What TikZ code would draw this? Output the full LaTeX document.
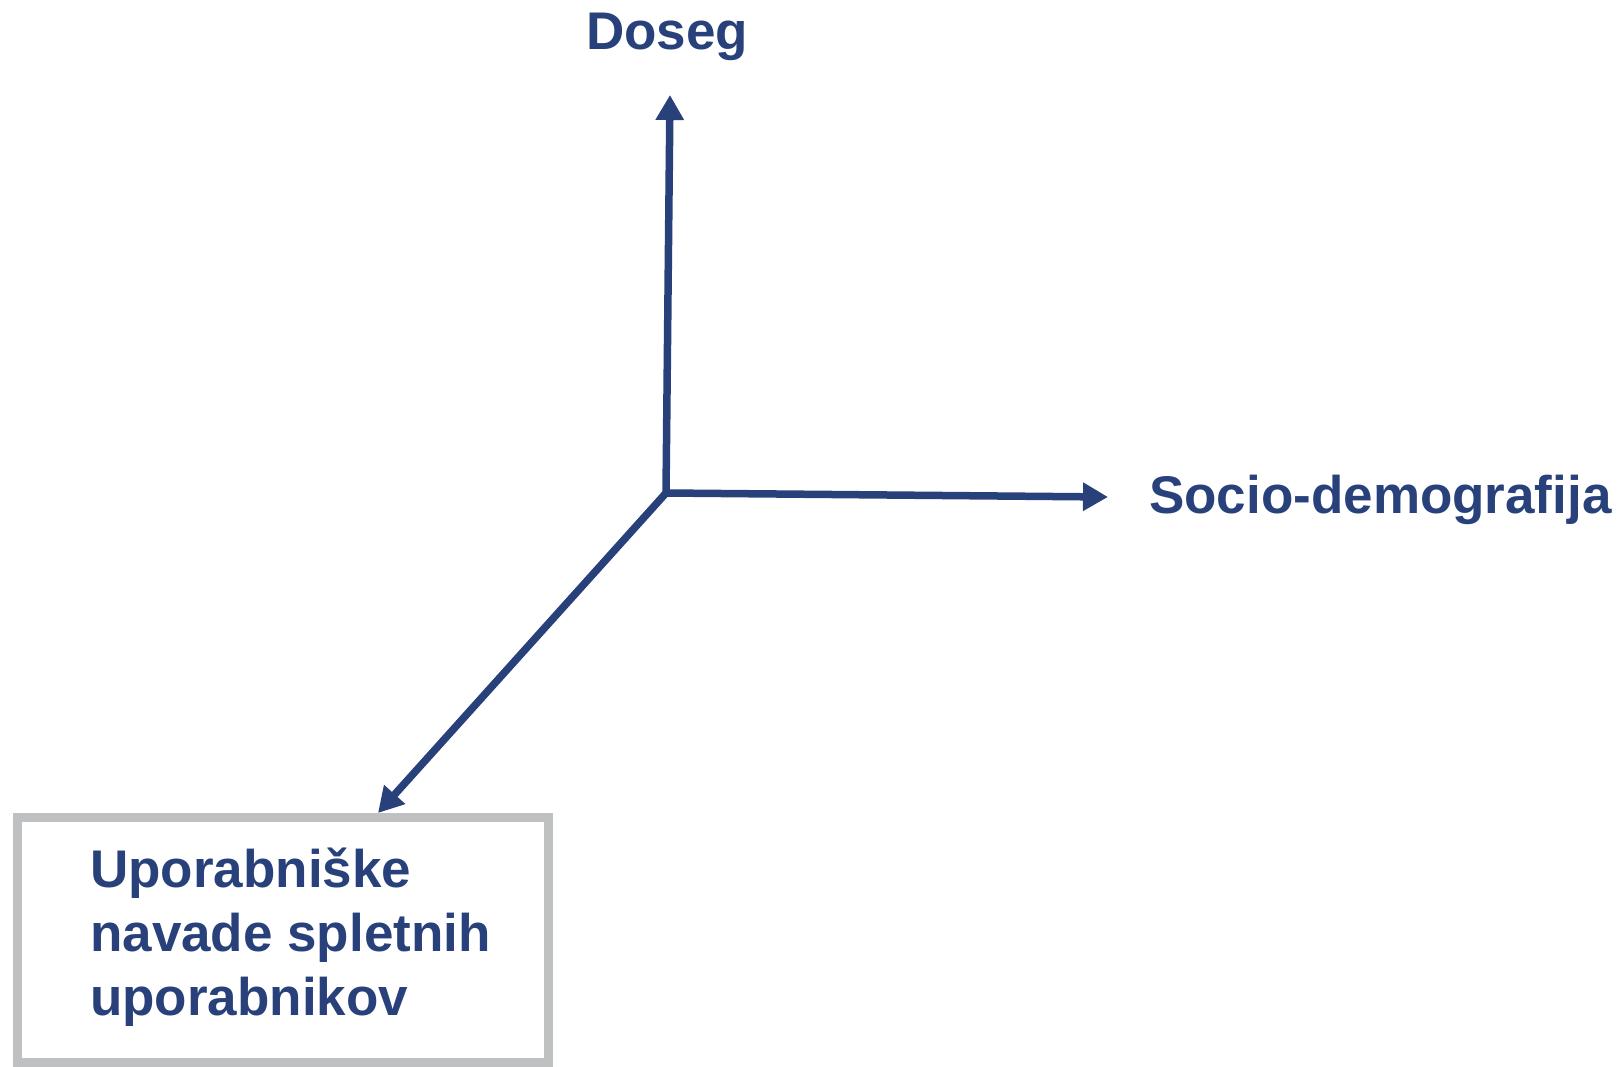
\documentclass[tikz,border=0pt]{standalone}
\usepackage{fontspec}
\setmainfont{Liberation Sans}
\usepackage{xcolor}
\usetikzlibrary{arrows.meta,positioning}

\definecolor{axisblue}{RGB}{41,65,122}
\definecolor{boxgray}{RGB}{191,192,194}

\begin{document}
\begin{tikzpicture}[x=1pt,y=-1pt,
    axis/.style={draw=axisblue, line width=7.5pt, -{Triangle[length=25pt,width=27pt]}},
    axlabel/.style={text=axisblue, font=\fontsize{53}{64}\selectfont\bfseries, inner sep=0pt}]
    \useasboundingbox (0,0) rectangle (1620,1067);

    \coordinate (origin) at (666,493);
    \coordinate (uptip) at (670,95);
    \coordinate (righttip) at (1108,497);
    \coordinate (downtip) at (378,813);

    \node[axlabel, anchor=base west] (doseg) at (586,50) {Doseg};
    \node[axlabel, anchor=base west] (socio) at (1149,513) {Socio-demografija};
    \node[draw=boxgray, line width=9pt, outer sep=0pt, inner sep=0pt,
          minimum width=531pt, minimum height=245pt, anchor=north west] (box) at (17,817) {};
    % last line sits on the base anchor
    \node[axlabel, anchor=base west, align=left] (habits) at (90,1015)
        {Uporabniške\\navade spletnih\\uporabnikov};

    \draw[axis] (origin) -- (uptip);
    \draw[axis] (origin) -- (righttip);
    \draw[axis] (origin) -- (downtip);

\end{tikzpicture}
\end{document}
